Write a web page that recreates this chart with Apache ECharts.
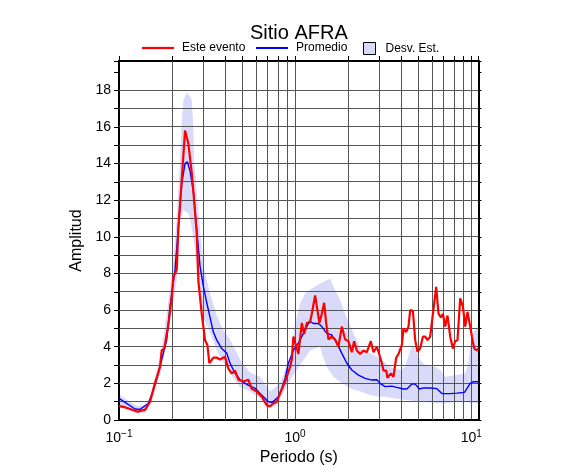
<!DOCTYPE html>
<html><head><meta charset="utf-8">
<script src="https://cdn.jsdelivr.net/npm/echarts@6/dist/echarts.min.js"></script>
<style>html,body{margin:0;padding:0;background:#fff}#c{width:586px;height:475px}</style>
</head><body><div id="c"></div>
<script>
// ---- data ----
const periodRed = [0.100,0.108,0.1155,0.1233,0.128,0.1316,0.1405,0.150,0.160,0.171,0.1748,0.1808,0.1906,0.1993,0.2035,0.2127,0.2172,0.2271,0.2371,0.2425,0.2476,0.2588,0.2643,0.2763,0.2822,0.2950,0.3080,0.3175,0.3259,0.3434,0.3590,0.3748,0.3832,0.4001,0.4178,0.4368,0.4561,0.4762,0.5085,0.5429,0.5675,0.6059,0.6469,0.6907,0.7211,0.7528,0.7870,0.8218,0.8773,0.9367,0.9579,0.9779,1.000,1.044,1.092,1.125,1.166,1.217,1.244,1.299,1.339,1.374,1.418,1.462,1.501,1.546,1.616,1.688,1.762,1.842,1.923,2.008,2.100,2.163,2.242,2.340,2.443,2.555,2.692,2.786,2.913,3.013,3.109,3.175,3.289,3.345,3.498,3.619,3.749,3.863,4.039,4.124,4.273,4.404,4.503,4.665,4.807,4.954,5.131,5.316,5.478,5.646,5.848,6.06,6.327,6.521,6.729,6.907,7.118,7.335,7.600,7.870,8.111,8.359,8.660,8.972,9.245,9.528,9.870,10.09,10.40,10.77,11.0];
const ampRed = [0.76,0.7,0.6,0.5,0.45,0.5,0.55,1.0,2.0,2.9,3.8,3.9,5.2,6.7,7.8,8.2,10.4,13.1,15.8,15.45,15.1,13.5,12.5,10.2,7.6,5.8,4.35,4.1,3.1,3.4,3.4,3.3,3.3,3.45,2.8,2.55,2.7,2.2,2.1,2.2,1.7,1.55,1.27,0.8,0.75,0.9,1.0,1.45,2.1,2.9,3.3,4.55,4.6,3.6,5.3,4.7,5.3,5.36,5.8,6.8,6.0,5.3,5.8,6.4,5.3,4.4,4.55,4.4,4.0,5.1,4.4,4.3,3.7,4.3,3.8,3.6,3.8,3.7,4.3,3.7,4.0,3.55,3.1,2.7,2.7,2.3,2.55,2.36,3.4,3.6,4.1,5.0,4.8,5.1,6.0,5.96,4.36,3.73,3.9,4.55,4.55,4.36,4.55,5.8,7.27,5.8,5.6,5.8,5.1,5.7,4.55,3.9,4.3,4.36,6.64,6.2,5.1,5.9,5.1,4.55,3.9,3.8,3.9];

const periodBlue = [0.100,0.1233,0.1316,0.1467,0.1566,0.1672,0.1785,0.1866,0.1949,0.2081,0.2172,0.2271,0.2371,0.2444,0.2531,0.2643,0.2763,0.2885,0.3013,0.3150,0.3289,0.3434,0.3590,0.3832,0.4091,0.4272,0.4561,0.4870,0.5198,0.5550,0.5925,0.6327,0.6754,0.7053,0.7373,0.7697,0.8036,0.8402,0.8773,0.9160,0.9779,1.044,1.115,1.190,1.228,1.271,1.356,1.418,1.514,1.616,1.726,1.842,1.967,2.100,2.289,2.498,2.728,2.913,3.041,3.246,3.544,3.783,4.124,4.312,4.604,4.807,5.085,5.358,5.848,6.386,6.818,7.600,8.293,9.160,9.870,10.30,11.0];
const ampBlue = [1.18,0.6,0.58,0.9,1.64,2.55,3.64,4.36,6.2,8.2,10.5,12.9,14.0,14.1,13.6,12.5,10.4,8.4,7.3,6.4,5.6,4.8,4.36,3.9,3.64,3.1,2.55,2.2,2.0,1.85,1.73,1.45,1.18,1.0,0.95,1.1,1.27,1.73,2.27,3.1,3.8,4.2,4.73,5.27,5.36,5.27,5.27,5.1,4.73,4.64,4.2,3.64,3.1,2.73,2.45,2.27,2.18,2.2,2.0,1.82,1.85,1.78,1.69,1.69,1.96,1.96,1.69,1.75,1.75,1.71,1.45,1.44,1.47,1.51,2.0,2.09,2.09];

const periodUpper = [0.100,0.1155,0.128,0.1405,0.150,0.160,0.171,0.180,0.190,0.200,0.210,0.2127,0.220,0.2271,0.2319,0.2425,0.2476,0.2588,0.2643,0.2667,0.2763,0.2885,0.3013,0.3289,0.3590,0.3913,0.4272,0.4870,0.5550,0.6327,0.7211,0.8218,0.9367,0.9579,1.000,1.068,1.140,1.190,1.387,1.581,1.651,1.802,1.923,2.144,2.393,2.667,3.013,3.466,3.950,4.217,4.503,4.683,5.131,5.478,6.245,6.668,7.118,8.111,9.245,9.616,9.870,10.13,10.68,11.0];
const ampUpper = [1.36,1.0,0.75,0.85,1.2,2.3,3.4,4.7,6.4,8.0,10.3,11.2,13.5,16.3,17.45,17.9,17.8,17.5,16.0,14.2,12.5,10.4,8.4,6.9,5.7,4.9,4.4,3.3,2.6,2.36,1.55,2.0,3.45,4.0,5.27,6.36,6.9,7.05,7.45,7.73,7.27,6.55,5.8,4.73,3.8,3.64,3.4,2.9,2.73,2.9,3.8,4.1,3.27,3.0,2.9,2.73,2.36,2.45,2.55,3.1,4.0,4.73,5.0,5.1];

const periodLower = [0.100,0.128,0.1405,0.150,0.160,0.171,0.180,0.190,0.200,0.2127,0.2221,0.2319,0.2476,0.2531,0.2643,0.2763,0.2885,0.3013,0.3289,0.3590,0.3748,0.4272,0.4870,0.5550,0.6327,0.7053,0.7697,0.8773,0.9367,1.068,1.217,1.299,1.387,1.418,1.514,1.651,1.842,2.053,2.340,2.667,3.013,3.246,3.950,5.131,6.668,8.660,11.0];
const ampLower = [0.7,0.35,0.4,0.8,1.6,2.5,3.5,4.8,6.0,7.6,10.9,11.45,11.3,11.0,10.0,8.5,6.6,5.6,4.8,3.8,3.45,2.55,1.8,1.55,1.18,0.64,0.73,1.64,2.18,3.0,3.8,3.9,4.0,3.64,2.9,2.36,2.0,1.73,1.55,1.36,1.27,1.27,1.13,1.0,0.91,1.0,0.91];

const minorPeriods = [0.2,0.3,0.4,0.5,0.6,0.7,0.8,0.9,2,3,4,5,6,7,8,9];
const hGridValues = [1,2,3,4,5,6,7,8,9,10,11,12,13,14,15,16,17,18];
const yLabelValues = [0,2,4,6,8,10,12,14,16,18];
const seriesNames = ['Este evento','Promedio','Desv. Est.'];
const titleText = 'Sitio AFRA';
const xTitle = 'Periodo (s)';
const yTitle = 'Amplitud';

// ---- chart ----
const FONT = "'Liberation Sans', Arial, Helvetica, sans-serif";
const X_MIN = 0.1, X_MAX = 11, Y_MIN = 0, Y_MAX = 19.6;
const GRID_COLOR = '#555';
const BAND_COLOR = '#d9d9fa';

const chart = echarts.init(document.getElementById('c'), null, {renderer:'canvas'});

function crisp(v){ return Math.round(v - 0.5) + 0.5; }

function expLabel(v){
  const l = Math.log10(v);
  const r = Math.round(l);
  if (Math.abs(l - r) > 1e-6) return '';
  return '{b|10}{s|' + (r < 0 ? '\u2212' + (-r) : r) + '}';
}

const legendBase = {
  padding: 0, itemWidth: 32, itemHeight: 12, selectedMode: false, top: 42,
  textStyle: {fontFamily: FONT, fontSize: 12, color: '#000', padding: [0,0,0,3]}
};

const option = {
  backgroundColor: '#fff',
  animation: false,
  title: {
    text: titleText, left: 250, top: 23, padding: 0,
    textStyle: {fontFamily: FONT, fontSize: 20, fontWeight: 'normal', color: '#000'}
  },
  legend: [
    Object.assign({}, legendBase, {left: 142,
      data: [{name: seriesNames[0], icon: 'path://M0,0H32V2.2H0Z', itemStyle: {color: '#ff0000'}}]}),
    Object.assign({}, legendBase, {left: 256,
      data: [{name: seriesNames[1], icon: 'path://M0,0H32V2H0Z', itemStyle: {color: '#0000ff'}}]}),
    Object.assign({}, legendBase, {left: 363, itemWidth: 12, itemHeight: 12,
      textStyle: {fontFamily: FONT, fontSize: 12, color: '#000', padding: [0,0,0,5]},
      data: [{name: seriesNames[2], icon: 'rect', itemStyle: {color: BAND_COLOR, borderColor: '#000', borderWidth: 1}}]})
  ],
  grid: {left: 119, right: 107.5, top: 61, bottom: 55, containLabel: false},
  xAxis: [
    {type: 'log', logBase: 10, min: X_MIN, max: X_MAX, position: 'bottom',
     axisLine: {show: true, onZero: false, lineStyle: {color: '#000', width: 2}},
     axisTick: {show: false},
     axisLabel: {formatter: expLabel, margin: 9, color: '#000',
       rich: {b: {fontFamily: FONT, fontSize: 14, color: '#000'},
              s: {fontFamily: FONT, fontSize: 10, color: '#000', padding: [0,0,8,0]}}},
     splitLine: {show: true, lineStyle: {color: GRID_COLOR, width: 1}},
     name: xTitle, nameLocation: 'middle', nameGap: 28,
     nameTextStyle: {fontFamily: FONT, fontSize: 16, color: '#000'}},
    {type: 'log', logBase: 10, min: X_MIN, max: X_MAX, position: 'top',
     axisLine: {show: true, onZero: false, lineStyle: {color: '#000', width: 2}},
     axisTick: {show: true, inside: false, length: 5, lineStyle: {color: '#000'}},
     axisLabel: {show: false}, splitLine: {show: false}}
  ],
  yAxis: [
    {type: 'value', min: Y_MIN, max: Y_MAX, interval: 1, position: 'left',
     axisLine: {show: true, onZero: false, lineStyle: {color: '#000', width: 2}},
     axisTick: {show: true, length: 5, lineStyle: {color: '#000'}},
     axisLabel: {formatter: v => yLabelValues.indexOf(v) >= 0 ? String(v) : '',
       fontFamily: FONT, fontSize: 14, color: '#000', margin: 8},
     splitLine: {show: false},
     name: yTitle, nameLocation: 'middle', nameGap: 23, nameRotate: 90,
     nameTextStyle: {fontFamily: FONT, fontSize: 16, color: '#000'}},
    {type: 'value', min: Y_MIN, max: Y_MAX, interval: 1, position: 'right',
     axisLine: {show: true, onZero: false, lineStyle: {color: '#000', width: 2}},
     axisTick: {show: true, length: 3, lineStyle: {color: '#000'}},
     axisLabel: {show: false}, splitLine: {show: false}}
  ],
  series: [
    {
      name: seriesNames[2], type: 'custom', coordinateSystem: 'cartesian2d', z: -1, silent: true,
      itemStyle: {color: BAND_COLOR},
      data: [[1, 1]],
      renderItem: function(params, api){
        const pts = [];
        for (let i = 0; i < periodUpper.length; i++) pts.push(api.coord([periodUpper[i], ampUpper[i]]));
        for (let i = periodLower.length - 1; i >= 0; i--) pts.push(api.coord([periodLower[i], ampLower[i]]));
        return {type: 'polygon', shape: {points: pts}, style: {fill: BAND_COLOR, stroke: null}};
      }
    },
    {
      name: 'hGrid', type: 'custom', coordinateSystem: 'cartesian2d', z: 1, silent: true,
      data: hGridValues.map(v => [X_MIN, v]),
      renderItem: function(params, api){
        const v = api.value(1);
        const p0 = api.coord([X_MIN, v]);
        const p1 = api.coord([X_MAX, v]);
        const y = crisp(p0[1]);
        return {type: 'line', shape: {x1: p0[0], y1: y, x2: p1[0], y2: y}, style: {stroke: GRID_COLOR, lineWidth: 1}};
      }
    },
    {
      name: 'minorGrid', type: 'custom', coordinateSystem: 'cartesian2d', z: 1, silent: true,
      data: minorPeriods.map(t => [t, Y_MIN]),
      renderItem: function(params, api){
        const t = api.value(0);
        const p0 = api.coord([t, Y_MIN]);
        const p1 = api.coord([t, Y_MAX]);
        const x = crisp(p0[0]);
        return {type: 'group', children: [
          {type: 'line', shape: {x1: x, y1: p0[1], x2: x, y2: p1[1]}, style: {stroke: GRID_COLOR, lineWidth: 1}},
          {type: 'line', shape: {x1: x, y1: p1[1], x2: x, y2: p1[1] - 5}, style: {stroke: '#000', lineWidth: 1}}
        ]};
      }
    },
    {
      name: seriesNames[1], type: 'line', z: 3, symbol: 'none', showSymbol: false,
      data: periodBlue.map((t, i) => [t, ampBlue[i]]),
      lineStyle: {color: '#0000ff', width: 1.4}, itemStyle: {color: '#0000ff'}
    },
    {
      name: seriesNames[0], type: 'line', z: 4, symbol: 'none', showSymbol: false,
      data: periodRed.map((t, i) => [t, ampRed[i]]),
      lineStyle: {color: '#ff0000', width: 2.2}, itemStyle: {color: '#ff0000'}
    }
  ]
};
chart.setOption(option);
</script>
</body></html>
